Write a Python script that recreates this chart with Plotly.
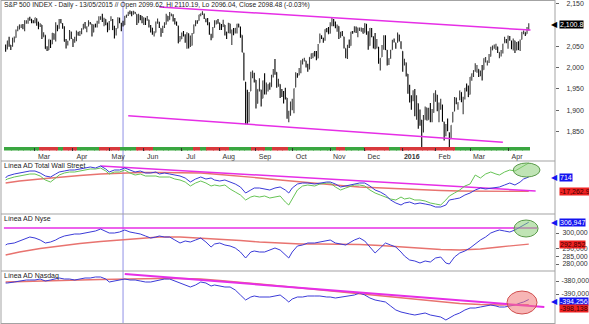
import pandas as pd
import plotly.graph_objects as go

# ---------------- data ----------------
TITLE = "S&P 500 INDEX - Daily - 13/05/2015 // Open 2099.62, Hi 2110.19, Lo 2096.04, Close 2098.48 (-0.03%)"
PANEL_NAMES = ["Línea AD Total Wall Street", "Línea AD Nyse", "Línea AD Nasdaq"]
START, END = "2015-02-04", "2016-04-19"
HOLIDAYS = ["2015-02-16", "2015-04-03", "2015-05-25", "2015-07-03", "2015-09-07", "2015-11-26",
            "2015-12-25", "2016-01-01", "2016-01-18", "2016-02-15", "2016-03-25"]
CURSOR_DATE = "2015-05-13"
MONTH_LABELS = ["Mar", "Apr", "May", "Jun", "Jul", "Aug", "Sep", "Oct", "Nov", "Dec", "<b>2016</b>", "Feb", "Mar", "Apr"]

OPEN = [2048, 2043, 2062, 2053, 2050, 2068, 2070, 2088, 2096, 2099, 2099, 2097, 2109, 2109, 2115, 2114, 2110,
        2105, 2115, 2107, 2098, 2100, 2072, 2076, 2045, 2041, 2064, 2055, 2080, 2073, 2099, 2091, 2108, 2103, 2093, 2059, 2055, 2064, 2084,
        2067, 2060, 2064, 2081, 2076, 2082, 2091, 2102, 2093, 2097, 2105, 2102, 2083, 2102, 2098, 2108, 2113, 2119, 2108, 2113, 2105,
        2088, 2110, 2112, 2091, 2080, 2092, 2116, 2103, 2100, 2100, 2122, 2122, 2130, 2128, 2126, 2130, 2125, 2105, 2122, 2121,
        2108, 2110, 2111, 2112, 2095, 2093, 2079, 2082, 2106, 2107, 2092, 2085, 2097, 2101, 2121, 2112, 2124, 2123, 2109, 2103, 2098, 2061,
        2067, 2078, 2073, 2069, 2080, 2050, 2052, 2080, 2100, 2109, 2110, 2124, 2127, 2121, 2114, 2114, 2102, 2078, 2070, 2094, 2109, 2111,
        2105, 2097, 2096, 2100, 2083, 2081, 2103, 2081, 2086, 2083, 2089, 2102, 2095, 2076, 2034, 1966, 1898, 1873, 1945, 1986, 1986,
        1971, 1916, 1950, 1948, 1928, 1971, 1941, 1951, 1961, 1955, 1979, 1995, 1989, 1960, 1961, 1943, 1935, 1935, 1929, 1882, 1888,
        1919, 1922, 1954, 1986, 1982, 1995, 2014, 2016, 2016, 2003, 1996, 2025, 2033, 2033, 2033, 2022, 2058, 2075, 2069, 2066, 2089, 2089,
        2080, 2102, 2110, 2101, 2098, 2097, 2078, 2083, 2072, 2045, 2022, 2054, 2051, 2083, 2083, 2089, 2085, 2089, 2089, 2090,
        2082, 2101, 2080, 2051, 2090, 2073, 2061, 2047, 2048, 2014, 2025, 2047, 2073, 2041, 2010, 2023, 2042, 2064, 2058, 2060, 2077, 2060,
        2038, 2013, 2011, 1985, 1945, 1927, 1927, 1940, 1892, 1916, 1888, 1877, 1861, 1878, 1906, 1878, 1903, 1885, 1895,
        1937, 1936, 1907, 1912, 1913, 1873, 1848, 1857, 1848, 1833, 1872, 1898, 1927, 1917, 1924, 1942, 1917, 1932, 1955, 1947,
        1937, 1977, 1986, 1994, 1997, 1996, 1982, 1991, 1995, 2019, 2015, 2015, 2026, 2041, 2048, 2048, 2049, 2032, 2037, 2035, 2058, 2064,
        2057, 2073, 2063, 2045, 2063, 2045, 2050, 2043, 2066, 2083, 2083, 2079, 2096]
HIGH = [2054, 2063, 2072, 2053, 2070, 2073, 2089, 2097, 2101, 2101, 2102, 2111, 2110, 2117, 2119, 2114, 2111,
        2117, 2115, 2107, 2104, 2100, 2083, 2076, 2050, 2066, 2065, 2081, 2080, 2106, 2099, 2114, 2114, 2104, 2097, 2067, 2063, 2088, 2084,
        2067, 2072, 2087, 2084, 2086, 2092, 2102, 2107, 2096, 2111, 2107, 2102, 2101, 2103, 2110, 2120, 2120, 2126, 2117, 2113, 2105,
        2109, 2120, 2114, 2098, 2093, 2118, 2117, 2105, 2110, 2121, 2124, 2131, 2134, 2132, 2133, 2130, 2125, 2126, 2123, 2121,
        2118, 2117, 2121, 2112, 2100, 2093, 2085, 2108, 2115, 2107, 2092, 2098, 2106, 2126, 2121, 2130, 2127, 2125, 2116, 2108, 2098, 2074,
        2082, 2086, 2078, 2083, 2080, 2075, 2081, 2101, 2111, 2111, 2124, 2127, 2132, 2127, 2115, 2116, 2106, 2079, 2095, 2111, 2111, 2114,
        2105, 2102, 2112, 2100, 2084, 2105, 2103, 2089, 2093, 2093, 2103, 2103, 2096, 2076, 2035, 1966, 1948, 1943, 1990, 1993, 1988,
        1971, 1949, 1975, 1948, 1970, 1987, 1965, 1961, 1965, 1983, 1997, 2020, 1989, 1974, 1961, 1950, 1945, 1953, 1929, 1899, 1920,
        1927, 1951, 1989, 1987, 1999, 2017, 2021, 2023, 2016, 2009, 2024, 2033, 2034, 2039, 2039, 2055, 2080, 2075, 2070, 2090, 2093, 2095,
        2106, 2116, 2114, 2108, 2101, 2097, 2084, 2086, 2072, 2045, 2053, 2066, 2084, 2086, 2097, 2096, 2094, 2094, 2094, 2093,
        2104, 2103, 2085, 2093, 2093, 2073, 2081, 2067, 2048, 2022, 2053, 2076, 2076, 2041, 2022, 2042, 2065, 2068, 2058, 2082, 2077, 2062,
        2038, 2021, 2012, 1985, 1960, 1935, 1947, 1950, 1935, 1916, 1902, 1877, 1889, 1909, 1906, 1906, 1917, 1903, 1940,
        1947, 1936, 1918, 1927, 1913, 1873, 1868, 1881, 1848, 1865, 1896, 1931, 1930, 1919, 1946, 1942, 1932, 1952, 1963, 1958,
        1978, 1986, 1994, 2010, 2006, 1996, 1993, 2006, 2022, 2025, 2016, 2032, 2049, 2052, 2054, 2056, 2049, 2036, 2041, 2056, 2072, 2067,
        2075, 2074, 2063, 2068, 2063, 2060, 2062, 2066, 2084, 2087, 2083, 2095, 2104]
LOW = [2037, 2043, 2049, 2041, 2049, 2059, 2070, 2085, 2089, 2093, 2090, 2085, 2103, 2103, 2110, 2104, 2104,
       2104, 2098, 2090, 2095, 2067, 2072, 2044, 2039, 2041, 2046, 2055, 2065, 2061, 2085, 2091, 2104, 2091, 2061, 2045, 2052, 2064, 2067,
       2048, 2058, 2062, 2075, 2074, 2078, 2089, 2092, 2083, 2097, 2101, 2073, 2083, 2094, 2094, 2103, 2112, 2107, 2097, 2099, 2083,
       2088, 2109, 2088, 2068, 2075, 2092, 2104, 2085, 2096, 2100, 2117, 2121, 2125, 2120, 2124, 2126, 2100, 2105, 2111, 2104,
       2100, 2100, 2110, 2094, 2082, 2077, 2073, 2082, 2103, 2093, 2072, 2081, 2093, 2101, 2108, 2112, 2120, 2108, 2101, 2098, 2057, 2061,
       2067, 2073, 2058, 2044, 2045, 2048, 2052, 2080, 2097, 2103, 2110, 2120, 2123, 2114, 2106, 2099, 2077, 2064, 2070, 2094, 2101, 2103,
       2088, 2088, 2095, 2075, 2067, 2081, 2080, 2053, 2076, 2080, 2080, 2094, 2070, 2036, 1970, 1867, 1867, 1872, 1945, 1975, 1965,
       1904, 1916, 1944, 1909, 1928, 1937, 1937, 1944, 1948, 1955, 1977, 1983, 1953, 1955, 1929, 1931, 1916, 1925, 1880, 1872, 1888,
       1900, 1893, 1954, 1976, 1982, 1987, 2007, 2014, 2000, 1990, 1996, 2020, 2022, 2026, 2017, 2022, 2058, 2067, 2058, 2063, 2083, 2079,
       2080, 2097, 2097, 2092, 2084, 2067, 2070, 2074, 2045, 2022, 2020, 2046, 2051, 2079, 2083, 2081, 2071, 2086, 2084, 2080,
       2082, 2077, 2042, 2051, 2071, 2045, 2043, 2045, 2009, 1993, 2025, 2042, 2041, 2005, 2006, 2021, 2042, 2059, 2044, 2058, 2061, 2044,
       1990, 2005, 1979, 1939, 1918, 1901, 1921, 1886, 1878, 1857, 1864, 1812, 1848, 1878, 1876, 1878, 1872, 1872, 1894,
       1920, 1898, 1872, 1901, 1873, 1829, 1839, 1851, 1810, 1833, 1872, 1898, 1914, 1901, 1924, 1919, 1891, 1925, 1944, 1931,
       1937, 1969, 1978, 1990, 1988, 1978, 1980, 1970, 1995, 2012, 2005, 2011, 2026, 2041, 2044, 2041, 2034, 2022, 2026, 2033, 2058, 2057,
       2044, 2063, 2043, 2040, 2034, 2040, 2041, 2039, 2066, 2078, 2074, 2079, 2087]
CLOSE = [2041, 2063, 2055, 2047, 2069, 2069, 2088, 2097, 2100, 2100, 2097, 2110, 2110, 2115, 2114, 2111, 2105,
         2117, 2108, 2099, 2101, 2071, 2079, 2044, 2040, 2066, 2053, 2081, 2074, 2100, 2089, 2108, 2104, 2092, 2061, 2056, 2061, 2086, 2068,
         2060, 2067, 2081, 2076, 2082, 2091, 2102, 2092, 2096, 2107, 2105, 2081, 2100, 2097, 2108, 2113, 2118, 2109, 2115, 2107, 2086,
         2108, 2114, 2089, 2080, 2088, 2116, 2105, 2099, 2098, 2121, 2123, 2129, 2128, 2126, 2131, 2126, 2104, 2123, 2121, 2107,
         2112, 2110, 2114, 2096, 2093, 2079, 2080, 2105, 2109, 2094, 2084, 2096, 2100, 2121, 2110, 2123, 2124, 2109, 2102, 2101, 2058, 2063,
         2077, 2077, 2069, 2081, 2047, 2051, 2077, 2100, 2109, 2107, 2124, 2127, 2128, 2119, 2114, 2102, 2080, 2068, 2093, 2109, 2109, 2104,
         2098, 2093, 2100, 2084, 2078, 2104, 2084, 2086, 2083, 2092, 2102, 2097, 2080, 2036, 1971, 1893, 1868, 1941, 1988, 1989, 1972,
         1914, 1949, 1951, 1921, 1969, 1942, 1952, 1961, 1953, 1978, 1995, 1990, 1958, 1967, 1943, 1939, 1932, 1931, 1882, 1884, 1920,
         1924, 1951, 1987, 1980, 1996, 2013, 2015, 2017, 2004, 1994, 2024, 2033, 2034, 2031, 2019, 2053, 2075, 2071, 2066, 2090, 2089, 2079,
         2104, 2110, 2102, 2100, 2099, 2079, 2082, 2075, 2046, 2023, 2053, 2050, 2084, 2081, 2089, 2087, 2089, 2089, 2090, 2080,
         2103, 2080, 2050, 2092, 2077, 2064, 2048, 2052, 2012, 2022, 2043, 2073, 2042, 2006, 2021, 2039, 2064, 2061, 2057, 2078, 2063, 2044,
         2013, 2017, 1990, 1943, 1922, 1924, 1939, 1890, 1922, 1880, 1881, 1859, 1869, 1907, 1877, 1904, 1883, 1893, 1940,
         1939, 1903, 1913, 1915, 1880, 1853, 1852, 1852, 1829, 1865, 1896, 1927, 1918, 1918, 1946, 1921, 1930, 1952, 1948, 1932,
         1978, 1986, 1993, 2000, 2002, 1979, 1989, 1990, 2022, 2020, 2016, 2027, 2041, 2050, 2052, 2050, 2037, 2036, 2037, 2055, 2064, 2060,
         2073, 2066, 2045, 2067, 2042, 2048, 2042, 2062, 2082, 2083, 2081, 2094, 2100.8]

PRICE_TICKS = [1850, 1900, 1950, 2000, 2050, 2150]
NYSE_TICKS = [280000, 285000, 290000, 300000]
NASDAQ_TICKS = [-390000, -380000]

# trend indicator strip (bar index where each state starts, alternating)
STRIP_START = [0, 20, 31, 34, 42, 55, 67, 76, 86, 109, 113, 117, 130, 143, 151, 155, 164, 192, 197, 208, 223, 229, 261]
STRIP_STATE = ["g", "r", "g", "r", "g", "r", "g", "r", "g", "r", "g", "r", "g", "r", "g", "r", "g", "r", "g", "r", "g", "r", "g"]

# trendlines on price (bar index, price)
RES_IDX, RES_VAL = [89, 304], [2142, 2088]
SUP_IDX, SUP_VAL = [71, 288], [1887, 1825]

# breadth series sampled by bar index
AD_IDX = [0, 1, 5, 8, 12, 14, 17, 20, 23, 26, 29, 31, 34, 37, 40, 43, 46, 49, 52, 55, 58, 60, 63, 66, 69, 72, 75, 78, 81, 84,
          87, 89, 92, 95, 98, 101, 104, 107, 110, 113, 116, 119, 121, 124, 127, 130, 133, 136, 139, 142, 144, 147, 150, 153,
          156, 159, 162, 164, 166, 169, 172, 175, 179, 182, 186, 188, 191, 194, 197, 200, 202, 205, 208, 211, 214, 217, 220,
          223, 226, 229, 231, 234, 237, 240, 243, 246, 249, 252, 255, 257, 260, 263, 266, 269, 272, 275, 278, 281, 284, 286,
          289, 292, 295, 298, 300, 303]
MA_IDX = [0, 8, 20, 31, 43, 55, 66, 78, 89, 101, 113, 124, 136, 147, 159, 171, 182, 194, 205, 217, 229, 240, 252, 263, 275, 286, 303]

TWS_AD = [-540, 1960, 4460, 5710, 6960, 8210, 8210, 5710, 1960, 710, 4460, 6960, 8210, 9460, 9460, 10710, 11960, 13210, 11960,
          14460, 10710, 6960, 9460, 9460, 11960, 9460, 6960, 8210, 5710, 5710, 6960, 4460, 5710, 4460, 3210, 1960, -540, -5540,
          -1790, 710, -1790, -540, -3040, -4290, -3040, -5540, -8040, -11790, -19290, -15540, -13040, -13040, -14290, -15540,
          -13040, -11790, -15540, -19290, -13040, -8040, -6790, -6790, -8040, -6790, -5540, -5540, -8040, -11790, -10540, -9290,
          -8040, -6790, -6790, -10540, -15540, -18040, -21790, -28040, -31790, -34290, -31790, -30540, -33040, -31790, -33040,
          -34290, -36790, -36790, -34290, -28040, -26790, -25540, -21790, -19290, -15540, -13040, -14290, -13040, -11790, -11790,
          -9290, -6790, -9290, -5540, -1790, 714]
TWS_GREEN = [-3040, -1790, 710, 1960, 3210, 4460, 4460, 1960, -3040, -5540, -540, 3210, 5710, 6960, 6960, 8210, 9460, 10710,
             10710, 11960, 8210, 4460, 6960, 6960, 9460, 5710, 3210, 4460, 1960, 1960, 1960, 710, 710, 710, -1790, -3040, -5540,
             -10540, -6790, -4290, -6790, -10540, -9290, -10540, -9290, -14290, -18040, -21790, -28040, -24290, -23040, -24290,
             -23040, -25540, -24290, -23040, -30540, -34290, -26790, -15540, -10540, -9290, -10540, -8040, -6790, -6790, -11790,
             -15540, -13040, -10540, -9290, -9290, -10540, -15540, -19290, -21790, -24290, -26790, -28040, -24290, -26790, -25540,
             -28040, -28040, -29290, -31790, -33040, -34290, -28040, -23040, -19290, -15540, -10540, -8040, 3210, -540, 4460, 6960,
             4460, 3210, 6960, 9460, 8210, 11960, 14460, 18210]
TWS_MA = [-6790, -4290, -1790, 710, 2590, 4460, 5710, 6340, 6340, 6340, 5710, 3840, 1960, -540, -3040, -5540, -8040, -9910,
          -11790, -13040, -14290, -15540, -16160, -16790, -17100, -17350, -17262.9]
TWS_TREND_IDX, TWS_TREND = [55, 307], [14460, -16790]

NYSE_AD = [292260, 292905, 293550, 294840, 296130, 297420, 296775, 295485, 293550, 294195, 295485, 296775, 298065, 298710,
           299355, 299355, 300000, 300645, 301290, 302580, 301290, 300000, 300000, 300645, 301935, 300645, 300000, 299355, 298065,
           296775, 297420, 298065, 297420, 297420, 295485, 293550, 294840, 294195, 295485, 296775, 294195, 290970, 292905, 293550,
           292260, 291615, 290325, 287745, 283875, 287745, 288390, 287745, 287745, 289035, 290325, 289035, 285810, 283875, 287745,
           291615, 292260, 293550, 293550, 294195, 294840, 295485, 293550, 292905, 292260, 294195, 295485, 296775, 294840, 290970,
           287100, 290325, 293550, 292260, 290970, 287745, 285165, 282585, 281940, 280650, 281940, 281295, 283875, 284520, 280650,
           280005, 284520, 287100, 288390, 290325, 292905, 295485, 297420, 300000, 301290, 301935, 301290, 300645, 301935, 303870,
           305160, 306947]
NYSE_MA = [285810, 287745, 290000, 291615, 293230, 294520, 295485, 296450, 297420, 297420, 296775, 296130, 295160, 294195,
           293550, 292905, 292905, 292905, 292580, 291940, 290970, 290000, 289360, 289035, 289680, 290970, 292852]
NYSE_TREND_IDX, NYSE_TREND = [-1, 308], [303225, 303225]

NASDAQ_AD = [-381540, -381540, -380770, -380000, -379230, -379230, -379230, -378470, -380000, -379230, -378470, -377700,
             -378470, -378470, -379230, -378470, -377700, -377700, -376930, -376930, -378470, -380770, -380000, -379230,
             -378470, -379230, -379230, -380000, -380770, -380770, -380000, -379230, -378470, -378470, -380000, -381540,
             -383080, -384620, -383080, -380770, -381540, -383850, -383080, -383850, -384620, -384620, -386920, -390770,
             -394610, -392310, -391540, -392310, -392310, -392310, -391540, -390770, -393850, -396150, -393850, -392310,
             -392310, -391540, -391540, -391540, -392310, -392310, -393080, -392310, -391540, -390770, -390770, -389230,
             -390770, -393080, -394610, -395380, -396150, -399230, -402300, -403840, -404610, -405380, -406150, -405380,
             -404610, -406150, -406920, -407690, -410000, -408460, -406150, -404610, -402300, -400770, -400770, -400000,
             -399230, -398460, -399230, -400000, -400000, -399230, -398460, -396920, -396150, -394256]
NASDAQ_MA = [-380770, -380380, -380000, -379620, -379230, -378850, -378470, -378080, -378080, -378080, -378470, -379620,
             -380770, -382310, -383850, -385390, -386920, -388460, -390000, -391540, -393080, -394610, -396150, -397310,
             -398080, -398460, -398138]
NASDAQ_TREND_IDX, NASDAQ_TREND = [69, 312], [-374620, -400000]

# ---------------- figure ----------------
W, H = 589, 324
LEFT, RIGHT = 1, 555          # plot area in pixels


def py(p):
    return 1 - p / H


def px(p):
    return (p - LEFT) / (RIGHT - LEFT)


dates = pd.bdate_range(START, END, freq="C", holidays=HOLIDAYS)
n = len(dates)
lens = [len(OPEN), len(HIGH), len(LOW), len(CLOSE)]
if any(l != n for l in lens):
    raise ValueError(f"dates {n}, series {lens}")
for nm, a, b in [("tws", TWS_AD, AD_IDX), ("twsg", TWS_GREEN, AD_IDX), ("nyse", NYSE_AD, AD_IDX),
                 ("nasdaq", NASDAQ_AD, AD_IDX), ("twsma", TWS_MA, MA_IDX), ("nyma", NYSE_MA, MA_IDX),
                 ("nqma", NASDAQ_MA, MA_IDX)]:
    if len(a) != len(b):
        raise ValueError(f"{nm}: {len(a)} vs {len(b)}")
idx = list(range(n))
month_ticks = [i for i in range(1, n) if dates[i].month != dates[i - 1].month]
cursor_idx = dates.get_loc(pd.Timestamp(CURSOR_DATE))

strip_colors = []
for k, s in enumerate(STRIP_START):
    e = STRIP_START[k + 1] if k + 1 < len(STRIP_START) else n
    strip_colors += [("#3aa640" if STRIP_STATE[k] == "g" else "#d8393c")] * (e - s)

BLUE, GREEN, RED, MAG = "#3b3bd8", "#66c455", "#e8736f", "#e62ee6"

fig = go.Figure()
fig.add_trace(go.Ohlc(x=idx, open=OPEN, high=HIGH, low=LOW, close=CLOSE, xaxis="x", yaxis="y",
                      increasing=dict(line=dict(color="#3a3a3a")), decreasing=dict(line=dict(color="#000000")),
                      line=dict(width=1.1), tickwidth=0.3, hoverinfo="skip", showlegend=False))
fig.add_trace(go.Scatter(x=RES_IDX, y=RES_VAL, mode="lines", line=dict(color=MAG, width=1.5), yaxis="y"))
fig.add_trace(go.Scatter(x=SUP_IDX, y=SUP_VAL, mode="lines", line=dict(color=MAG, width=1.5), yaxis="y"))
fig.add_trace(go.Bar(x=idx, y=[1] * n, marker=dict(color=strip_colors, line=dict(width=0)), width=0.8, yaxis="y5"))

# TWS
fig.add_trace(go.Scatter(x=MA_IDX, y=TWS_MA, mode="lines", line=dict(color=RED, width=1.3), yaxis="y2"))
fig.add_trace(go.Scatter(x=TWS_TREND_IDX, y=TWS_TREND, mode="lines", line=dict(color=MAG, width=1.5), yaxis="y2"))
fig.add_trace(go.Scatter(x=AD_IDX, y=TWS_GREEN, mode="lines", line=dict(color=GREEN, width=1), yaxis="y2"))
fig.add_trace(go.Scatter(x=AD_IDX, y=TWS_AD, mode="lines", line=dict(color=BLUE, width=1), yaxis="y2"))
# NYSE
fig.add_trace(go.Scatter(x=MA_IDX, y=NYSE_MA, mode="lines", line=dict(color=RED, width=1.3), yaxis="y3"))
fig.add_trace(go.Scatter(x=NYSE_TREND_IDX, y=NYSE_TREND, mode="lines", line=dict(color=MAG, width=1.5), yaxis="y3"))
fig.add_trace(go.Scatter(x=AD_IDX, y=NYSE_AD, mode="lines", line=dict(color=BLUE, width=1), yaxis="y3"))
# NASDAQ
fig.add_trace(go.Scatter(x=MA_IDX, y=NASDAQ_MA, mode="lines", line=dict(color=RED, width=1.3), yaxis="y4"))
fig.add_trace(go.Scatter(x=AD_IDX, y=NASDAQ_AD, mode="lines", line=dict(color=BLUE, width=1), yaxis="y4"))
fig.add_trace(go.Scatter(x=NASDAQ_TREND_IDX, y=NASDAQ_TREND, mode="lines", line=dict(color=MAG, width=2), yaxis="y4"))

tickfont = dict(size=7, color="#333333", family="Liberation Sans, Arial, sans-serif")


def yax(dom_px, rng, ticks=None, standoff=2):
    d = dict(domain=[py(dom_px[1]), py(dom_px[0])], range=rng, side="right", anchor="x", showgrid=False,
             zeroline=False, showline=False, automargin=False, fixedrange=True, tickfont=tickfont)
    if ticks:
        d.update(tickmode="array", tickvals=ticks, ticktext=[f"{v:,}" for v in ticks], ticks="outside",
                 ticklen=3, tickcolor="#666666", ticklabelstandoff=standoff)
    else:
        d.update(showticklabels=False, ticks="")
    return d


fig.update_layout(
    template="none", width=W, height=H, margin=dict(l=LEFT, r=W - RIGHT, t=0, b=0, pad=0),
    paper_bgcolor="white", plot_bgcolor="white", showlegend=False, hovermode=False, bargap=0,
    font=dict(family="Liberation Sans, Arial, sans-serif", size=7, color="#333333"),
    xaxis=dict(domain=[0, 1], range=[-2.69, 318.2], anchor="y5", tickmode="array", tickvals=month_ticks,
               ticktext=MONTH_LABELS, ticks="inside", ticklen=3, tickcolor="#333333", showgrid=False,
               zeroline=False, showline=False, automargin=False, rangeslider=dict(visible=False),
               ticklabelshift=9, tickfont=tickfont, fixedrange=True),
    yaxis=yax([1, 147], [1814, 2156], PRICE_TICKS, standoff=6),
    yaxis5=dict(domain=[py(150.5), py(147)], range=[0, 1], visible=False, anchor="x", fixedrange=True),
    yaxis2=yax([161, 214], [-45536, 20714]),
    yaxis3=yax([214, 271], [275490, 312255], NYSE_TICKS, standoff=2),
    yaxis4=yax([271, 323], [-412301, -372313], NASDAQ_TICKS, standoff=1),
)

GRID = "#a3a3a3"
shapes = [
    dict(type="line", xref="x", yref="paper", x0=cursor_idx, x1=cursor_idx, y0=0, y1=1,
         line=dict(color="#9090e6", width=1), layer="below"),
]
for p in [161, 214, 271]:
    shapes.append(dict(type="line", xref="paper", yref="paper", x0=0, x1=1, y0=py(p), y1=py(p),
                       line=dict(color=GRID, width=1)))
shapes += [
    dict(type="line", xref="paper", yref="paper", x0=0, x1=0, y0=0, y1=1, line=dict(color=GRID, width=1)),
    dict(type="line", xref="paper", yref="paper", x0=1, x1=1, y0=0, y1=1, line=dict(color=GRID, width=1)),
    dict(type="line", xref="paper", yref="paper", x0=0, x1=1, y0=py(0.5), y1=py(0.5), line=dict(color=GRID, width=1)),
    dict(type="line", xref="paper", yref="paper", x0=0, x1=1, y0=py(323.5), y1=py(323.5), line=dict(color=GRID, width=1)),
    dict(type="circle", xref="x", yref="y2", x0=294, x1=309.5, y0=710, y1=18210,
         fillcolor="rgba(140,205,120,0.55)", line=dict(color="#5a9a4a", width=1)),
    dict(type="circle", xref="x", yref="y3", x0=294.5, x1=308.4, y0=297420, y1=308385,
         fillcolor="rgba(140,205,120,0.55)", line=dict(color="#5a9a4a", width=1)),
    dict(type="circle", xref="x", yref="y4", x0=290.4, x1=307.8, y0=-405380, y1=-387690,
         fillcolor="rgba(240,120,120,0.55)", line=dict(color="#d05050", width=1)),
]
fig.update_layout(shapes=shapes)

ann = [
    dict(xref="paper", yref="paper", x=px(2), y=py(5), xanchor="left", yanchor="middle", text=TITLE,
         showarrow=False, font=dict(size=6.7, color="#222222")),
]
for name, p in zip(PANEL_NAMES, [165.5, 218.5, 275.5]):
    ann.append(dict(xref="paper", yref="paper", x=px(2), y=py(p), xanchor="left", yanchor="middle", text=name,
                    showarrow=False, font=dict(size=7, color="#222222")))


def tag(yref, val, text, bg, fg, arrow, yshift=0):
    out = [dict(xref="paper", yref=yref, x=px(559), y=val, xanchor="left", yanchor="middle", text=text,
                showarrow=False, bgcolor=bg, borderpad=0, yshift=yshift, font=dict(size=7, color=fg))]
    if arrow:
        out.append(dict(xref="paper", yref=yref, x=px(560), y=val, xanchor="right", yanchor="middle",
                        text="◀", showarrow=False, yshift=yshift, font=dict(size=8, color=bg,
                                                                            family="DejaVu Sans")))
    return out


ann += tag("y", CLOSE[-1], f"{CLOSE[-1]:,.1f}", "#000000", "#ffffff", True)
ann += tag("y2", TWS_AD[-1], f"{TWS_AD[-1]:,}", "#1414f0", "#ffffff", True)
ann += tag("y2", TWS_MA[-1], f"{TWS_MA[-1]:,.1f}", "#ee2222", "#400000", False)
ann += tag("y3", NYSE_AD[-1], f"{NYSE_AD[-1]:,}", "#1414f0", "#ffffff", True)
ann += tag("y3", NYSE_MA[-1], f"{NYSE_MA[-1]:,}", "#ee2222", "#400000", False)
ann += tag("y4", NASDAQ_AD[-1], f"{NASDAQ_AD[-1]:,}", "#1414f0", "#ffffff", True, yshift=-1.5)
ann += tag("y4", NASDAQ_MA[-1], f"{NASDAQ_MA[-1]:,}", "#ee2222", "#400000", False, yshift=-4)
fig.update_layout(annotations=ann)

fig.write_html("out.html")
